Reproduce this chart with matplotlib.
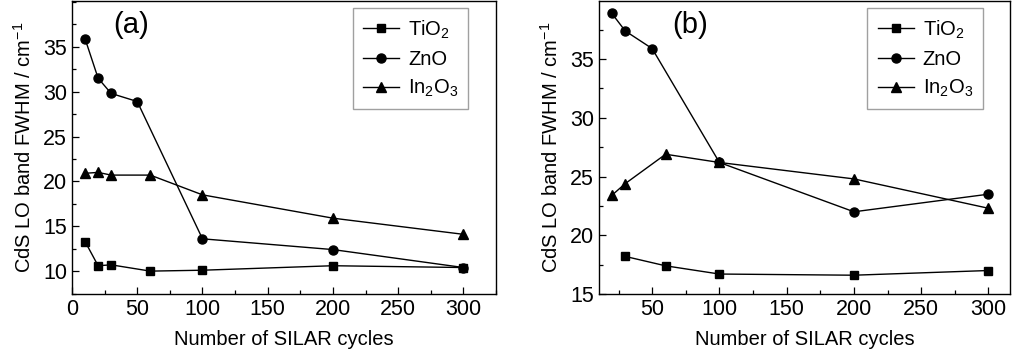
import matplotlib
matplotlib.use("Agg")
import matplotlib.pyplot as plt
from matplotlib.ticker import MultipleLocator

plt.rcParams['font.family'] = ['Liberation Sans', 'DejaVu Sans']
plt.rcParams['mathtext.fontset'] = 'custom'
plt.rcParams['mathtext.rm'] = 'Liberation Sans'
plt.rcParams['mathtext.it'] = 'Liberation Sans'

# Panel (a)
a_ti_x = [10, 20, 30, 60, 100, 200, 300]
a_ti_y = [13.3, 10.6, 10.7, 10.0, 10.1, 10.6, 10.4]
a_zn_x = [10, 20, 30, 50, 100, 200, 300]
a_zn_y = [35.9, 31.5, 29.8, 28.9, 13.6, 12.4, 10.4]
a_in_x = [10, 20, 30, 60, 100, 200, 300]
a_in_y = [20.9, 21.0, 20.7, 20.7, 18.5, 15.9, 14.1]

# Panel (b)
b_ti_x = [30, 60, 100, 200, 300]
b_ti_y = [18.2, 17.4, 16.7, 16.6, 17.0]
b_zn_x = [20, 30, 50, 100, 200, 300]
b_zn_y = [38.9, 37.4, 35.9, 26.2, 22.0, 23.5]
b_in_x = [20, 30, 60, 100, 200, 300]
b_in_y = [23.4, 24.4, 26.9, 26.2, 24.8, 22.3]

labels = ['TiO$_2$', 'ZnO', 'In$_2$O$_3$']
markers = ['s', 'o', '^']

fig = plt.figure(figsize=(10.24, 3.54), dpi=100)
ax1 = fig.add_axes([72/1024, 1-294/354, 424/1024, 293/354])
ax2 = fig.add_axes([599/1024, 1-294/354, 411/1024, 293/354])

def style(ax):
    ax.tick_params(which='both', direction='in', top=False, right=False, labelsize=15.5)
    ax.tick_params(which='major', length=5, width=0.9)
    ax.tick_params(which='minor', length=3, width=0.9)
    for s in ax.spines.values():
        s.set_linewidth(1.0)
    ax.set_xlabel('Number of SILAR cycles', fontsize=14.5, labelpad=7)
    ax.set_ylabel('CdS LO band FWHM / cm$^{-1}$', fontsize=14.5, labelpad=6)
    ax.xaxis.set_minor_locator(MultipleLocator(25))
    ax.yaxis.set_major_locator(MultipleLocator(5))
    ax.yaxis.set_minor_locator(MultipleLocator(2.5))

series_a = [(a_ti_x, a_ti_y), (a_zn_x, a_zn_y), (a_in_x, a_in_y)]
series_b = [(b_ti_x, b_ti_y), (b_zn_x, b_zn_y), (b_in_x, b_in_y)]

for ax, series, tag in [(ax1, series_a, '(a)'), (ax2, series_b, '(b)')]:
    for (x, y), lab, m in zip(series, labels, markers):
        ax.plot(x, y, color='black', lw=1.0, marker=m, ms=6.5 if m != 's' else 6, label=lab)
    style(ax)
    leg = ax.legend(loc='upper right', bbox_to_anchor=(0.935, 0.975), fontsize=14.5,
                    frameon=True, fancybox=False, handlelength=1.8, numpoints=1,
                    borderpad=0.5, labelspacing=0.45, handletextpad=0.45, borderaxespad=0)
    leg.get_frame().set_edgecolor('#888888')
    leg.get_frame().set_linewidth(1.0)

ax1.set_xlim(0, 325)
ax1.set_ylim(7.45, 40.1)
ax1.set_xticks([0, 50, 100, 150, 200, 250, 300])
ax1.set_yticks([10, 15, 20, 25, 30, 35])
ax1.text(0.097, 0.965, '(a)', transform=ax1.transAxes, fontsize=21, va='top', ha='left')

ax2.set_xlim(10.5, 316)
ax2.set_ylim(15, 39.95)
ax2.set_xticks([50, 100, 150, 200, 250, 300])
ax2.set_yticks([15, 20, 25, 30, 35])
ax2.text(0.178, 0.965, '(b)', transform=ax2.transAxes, fontsize=21, va='top', ha='left')

fig.savefig('out.png', dpi=100)
